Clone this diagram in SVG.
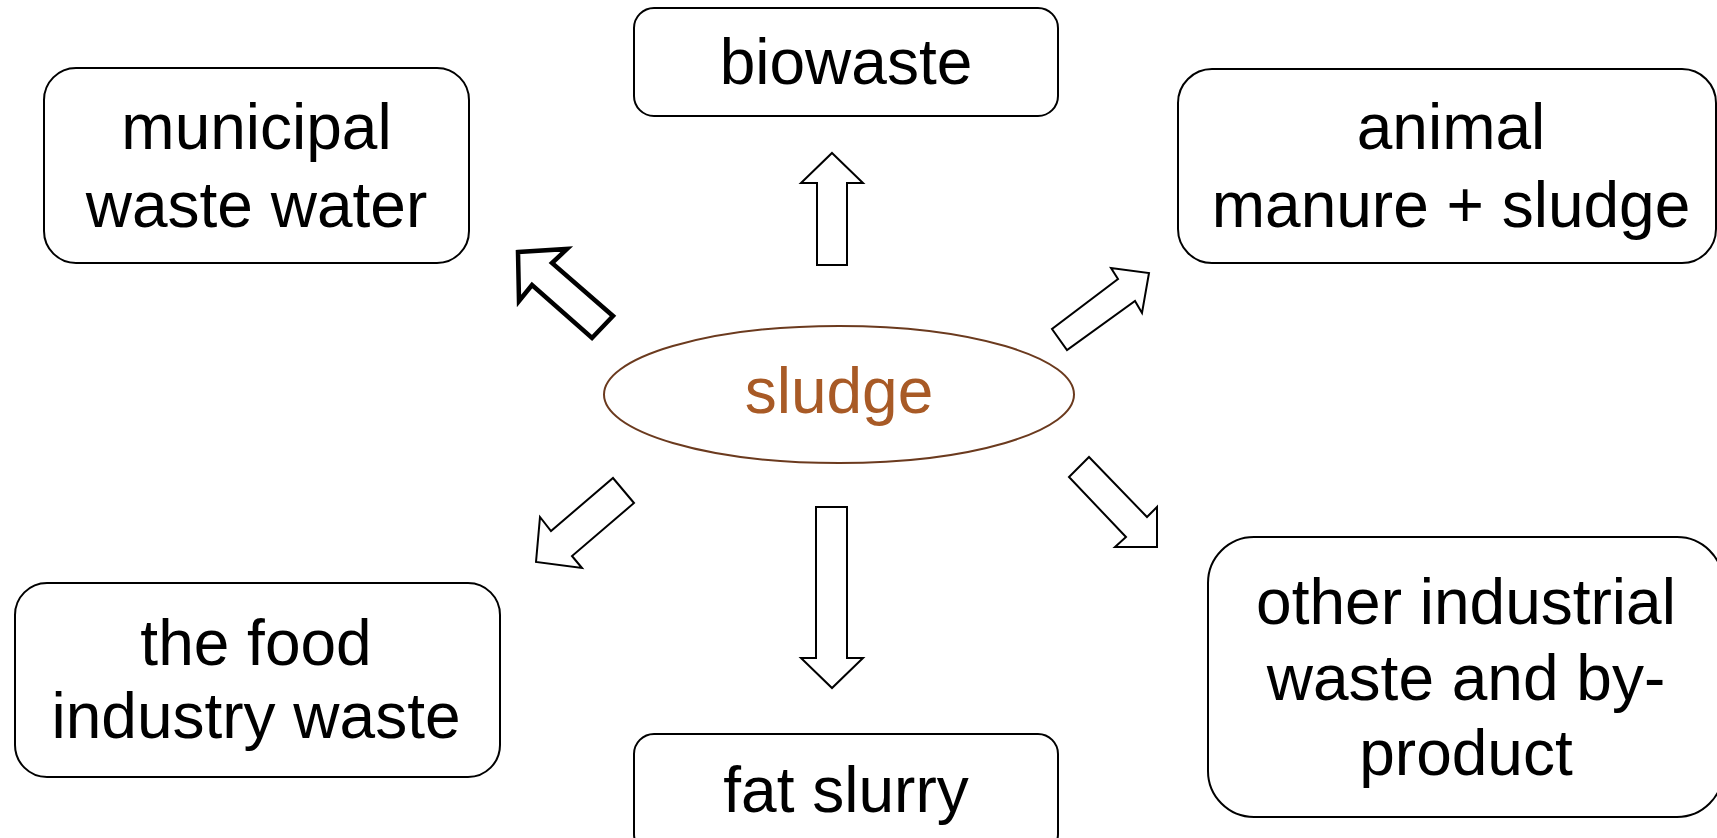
<svg xmlns="http://www.w3.org/2000/svg" width="1717" height="838" viewBox="0 0 1717 838">
<style>
.box{fill:#fff;stroke:#000;stroke-width:2}
.t{font-family:"Liberation Sans",Arial,sans-serif;font-size:64px;fill:#000;text-anchor:middle}
.arr{fill:#fff;stroke:#000;stroke-width:2;stroke-linejoin:miter}
.bold{stroke-width:4.5}
</style>
<rect width="1717" height="838" fill="#fff"/>
<g id="connectors">
<polygon class="arr bold" points="518,252 567,249 552,263 613,316 592,338 532,285 519,301"/>
<polygon class="arr" points="832,153 863,183 847,183 847,265 817,265 817,183 801,183"/>
<polygon class="arr" points="1149,273 1142,313 1135,301 1067,350 1052,329 1118,279 1111,268"/>
<polygon class="arr" points="536,562 540,517 551,531 613,478 634,503 572,556 582,568"/>
<polygon class="arr" points="816,507 847,507 847,658 863,658 832,688 801,658 816,658"/>
<polygon class="arr" points="1089,457 1147,517 1157,507 1157,547 1115,547 1126,537 1069,477"/>
</g>
<g id="sludge">
<ellipse cx="839" cy="394.5" rx="235" ry="68.5" fill="#fff" stroke="#6B3A1E" stroke-width="2"/>
<text class="t" x="839" y="413" style="fill:#A85A26">sludge</text>
</g>
<g id="municipal">
<rect class="box" x="44" y="68" width="425" height="195" rx="32"/>
<text class="t" x="256.5" y="149">municipal</text>
<text class="t" x="256.5" y="227">waste water</text>
</g>
<g id="biowaste">
<rect class="box" x="634" y="8" width="424" height="108" rx="20"/>
<text class="t" x="846" y="84">biowaste</text>
</g>
<g id="animal">
<rect class="box" x="1178" y="69" width="538" height="194" rx="34"/>
<text class="t" x="1451" y="149">animal</text>
<text class="t" x="1451" y="227">manure + sludge</text>
</g>
<g id="food">
<rect class="box" x="15" y="583" width="485" height="194" rx="32"/>
<text class="t" x="256" y="665">the food</text>
<text class="t" x="256" y="738">industry waste</text>
</g>
<g id="fat">
<rect class="box" x="634" y="734" width="424" height="120" rx="20"/>
<text class="t" x="846" y="812">fat slurry</text>
</g>
<g id="other">
<rect class="box" x="1208" y="537" width="515" height="280" rx="46"/>
<text class="t" x="1466" y="624">other industrial</text>
<text class="t" x="1466" y="700">waste and by-</text>
<text class="t" x="1466" y="775">product</text>
</g>
</svg>
